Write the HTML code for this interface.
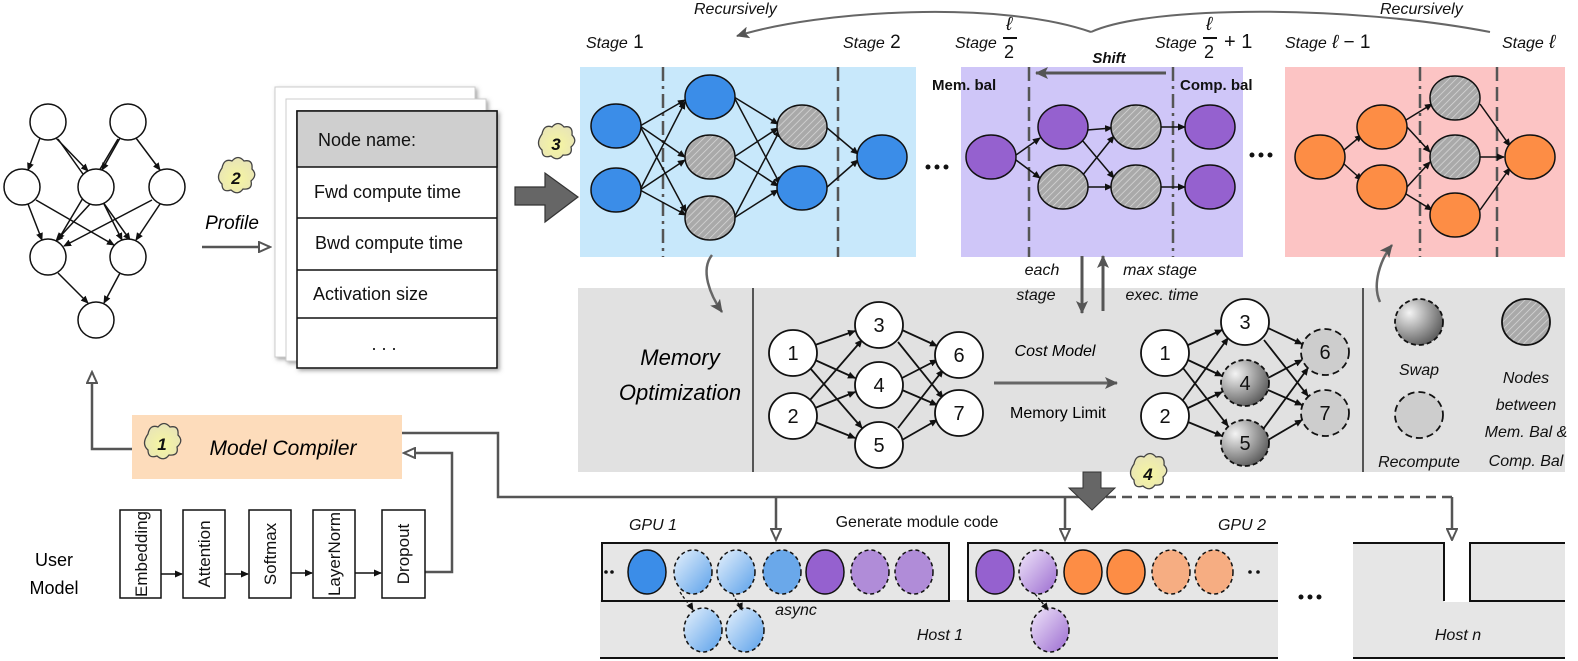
<!DOCTYPE html>
<html><head><meta charset="utf-8"><style>
html,body{margin:0;padding:0;background:#fff;}
svg{display:block;font-family:"Liberation Sans",sans-serif;}
.it{font-style:italic;}
</style></head><body>
<svg width="1578" height="661" viewBox="0 0 1578 661" xmlns="http://www.w3.org/2000/svg">
<defs>
<pattern id="hatch" width="5" height="5" patternUnits="userSpaceOnUse" patternTransform="rotate(45)">
<rect width="5" height="5" fill="#a9a9a9"/><line x1="0" y1="0" x2="0" y2="5" stroke="#d8d8d8" stroke-width="1.5"/></pattern>
<radialGradient id="swapg" cx="0.3" cy="0.3" r="0.8"><stop offset="0" stop-color="#f4f4f4"/><stop offset="1" stop-color="#555"/></radialGradient>
<linearGradient id="bg1" x1="0" y1="0" x2="1" y2="1"><stop offset="0" stop-color="#e6f1fc"/><stop offset="1" stop-color="#5aa0ea"/></linearGradient>
<linearGradient id="pg1" x1="0" y1="0" x2="1" y2="1"><stop offset="0" stop-color="#f0e6fa"/><stop offset="1" stop-color="#9b6bd0"/></linearGradient>
<radialGradient id="cloud" cx="0.5" cy="0.6" r="0.6"><stop offset="0" stop-color="#f6f6a0"/><stop offset="1" stop-color="#e8e4b8"/></radialGradient>
<marker id="a" markerWidth="8" markerHeight="8" refX="7" refY="4" orient="auto" markerUnits="userSpaceOnUse"><path d="M0,0.5 L8,4 L0,7.5 z" fill="#111"/></marker>
<marker id="h" markerWidth="14" markerHeight="12" refX="12" refY="6" orient="auto" markerUnits="userSpaceOnUse"><path d="M1,1 L12,6 L1,11 z" fill="#fff" stroke="#555" stroke-width="2"/></marker>
<marker id="g" markerWidth="14" markerHeight="12" refX="12" refY="6" orient="auto" markerUnits="userSpaceOnUse"><path d="M0,0 L13,6 L0,12 L3,6 z" fill="#555"/></marker>
<filter id="sh"><feDropShadow dx="2" dy="2" stdDeviation="2" flood-color="#666" flood-opacity="0.6"/></filter>
</defs>

<!-- left graph -->
<g stroke="#111" stroke-width="1.5" marker-end="url(#a)">
<line x1="40" y1="138" x2="28" y2="170"/><line x1="56" y1="138" x2="88" y2="171"/>
<line x1="120" y1="138" x2="102" y2="170"/><line x1="136" y1="138" x2="160" y2="170"/>
<line x1="58" y1="139" x2="130" y2="240" /><line x1="118" y1="139" x2="58" y2="240"/>
<line x1="28" y1="204" x2="42" y2="240"/><line x1="90" y1="204" x2="56" y2="241"/>
<line x1="104" y1="204" x2="122" y2="240"/><line x1="160" y1="204" x2="136" y2="240"/>
<line x1="36" y1="200" x2="114" y2="245"/><line x1="152" y1="200" x2="64" y2="246"/>
<line x1="58" y1="273" x2="88" y2="303"/><line x1="120" y1="273" x2="104" y2="303"/>
</g>
<g fill="#fff" stroke="#111" stroke-width="1.5">
<circle cx="48" cy="122" r="18"/><circle cx="128" cy="122" r="18"/>
<circle cx="22" cy="187" r="18"/><circle cx="96" cy="187" r="18"/><circle cx="167" cy="187" r="18"/>
<circle cx="48" cy="257" r="18"/><circle cx="128" cy="257" r="18"/><circle cx="96" cy="320" r="18"/>
</g>

<!-- profile -->
<line x1="202" y1="247" x2="270" y2="247" stroke="#555" stroke-width="2.5" marker-end="url(#h)"/>
<text x="232" y="229" class="it" font-size="19" text-anchor="middle">Profile</text>
<g filter="url(#sh)">
<rect x="275" y="87" width="200" height="270" fill="#fff" stroke="#ccc"/>
<rect x="286" y="99" width="200" height="262" fill="#fff" stroke="#ccc"/>
<rect x="297" y="111" width="200" height="257" fill="#fff" stroke="#111" stroke-width="1.5"/>
</g>
<rect x="297" y="111" width="200" height="56" fill="#cfcfcf" stroke="#111" stroke-width="1.5"/>
<g stroke="#111" stroke-width="1.5"><line x1="297" y1="218" x2="497" y2="218"/><line x1="297" y1="270" x2="497" y2="270"/><line x1="297" y1="318" x2="497" y2="318"/></g>
<g font-size="18" fill="#111">
<text x="318" y="146">Node name:</text>
<text x="314" y="198">Fwd compute time</text>
<text x="315" y="249">Bwd compute time</text>
<text x="313" y="300">Activation size</text>
<text x="384" y="350" text-anchor="middle">. . .</text>
</g>

<!-- big arrow 3 -->
<path d="M515,187 L545,187 L545,173 L578,197 L545,222 L545,205 L515,205 Z" fill="#666" stroke="#333" stroke-width="1.2"/>

<!-- Stage boxes -->
<rect x="580" y="67" width="336" height="190" fill="#c8e8fb"/>
<rect x="961" y="67" width="282" height="190" fill="#cfc6f8"/>
<rect x="1285" y="67" width="280" height="190" fill="#fcc4c4"/>
<g stroke="#555" stroke-width="2.5" stroke-dasharray="14,5,3,5">
<line x1="663" y1="67" x2="663" y2="257"/><line x1="838" y1="67" x2="838" y2="257" stroke-dasharray="14,6"/>
<line x1="1029" y1="67" x2="1029" y2="257" stroke-dasharray="14,6"/><line x1="1173" y1="67" x2="1173" y2="257"/>
<line x1="1420" y1="67" x2="1420" y2="257"/><line x1="1497" y1="67" x2="1497" y2="257" stroke-dasharray="14,6"/>
</g>
<!-- stage1 edges -->
<g stroke="#111" stroke-width="1.5" marker-end="url(#a)">
<line x1="640" y1="126" x2="685" y2="100"/><line x1="640" y1="126" x2="685" y2="157"/><line x1="640" y1="126" x2="686" y2="212"/>
<line x1="640" y1="190" x2="685" y2="102"/><line x1="640" y1="190" x2="685" y2="160"/><line x1="640" y1="190" x2="686" y2="215"/>
<line x1="734" y1="97" x2="778" y2="124"/><line x1="734" y1="97" x2="780" y2="184"/>
<line x1="734" y1="157" x2="778" y2="128"/><line x1="734" y1="157" x2="778" y2="186"/>
<line x1="734" y1="218" x2="780" y2="130"/><line x1="734" y1="218" x2="778" y2="190"/>
<line x1="826" y1="127" x2="858" y2="154"/><line x1="826" y1="188" x2="858" y2="160"/>
</g>
<g stroke="#111" stroke-width="1.5">
<ellipse cx="616" cy="126" rx="25" ry="22" fill="#3b8de8"/><ellipse cx="616" cy="190" rx="25" ry="22" fill="#3b8de8"/>
<ellipse cx="710" cy="97" rx="25" ry="22" fill="#3b8de8"/><ellipse cx="710" cy="157" rx="25" ry="22" fill="url(#hatch)"/><ellipse cx="710" cy="218" rx="25" ry="22" fill="url(#hatch)"/>
<ellipse cx="802" cy="127" rx="25" ry="22" fill="url(#hatch)"/><ellipse cx="802" cy="188" rx="25" ry="22" fill="#3b8de8"/>
<ellipse cx="882" cy="157" rx="25" ry="22" fill="#3b8de8"/>
</g>
<!-- purple stage -->
<g stroke="#111" stroke-width="1.5" marker-end="url(#a)">
<line x1="1016" y1="155" x2="1040" y2="138"/><line x1="1016" y1="160" x2="1040" y2="178"/>
<line x1="1087" y1="130" x2="1112" y2="128"/><line x1="1082" y1="140" x2="1114" y2="178"/>
<line x1="1082" y1="176" x2="1114" y2="136"/><line x1="1087" y1="187" x2="1112" y2="187"/>
<line x1="1161" y1="127" x2="1185" y2="127"/><line x1="1161" y1="187" x2="1185" y2="187"/>
</g>
<g stroke="#111" stroke-width="1.5">
<ellipse cx="991" cy="157" rx="25" ry="22" fill="#9561cf"/>
<ellipse cx="1063" cy="127" rx="25" ry="22" fill="#9561cf"/><ellipse cx="1063" cy="187" rx="25" ry="22" fill="url(#hatch)"/>
<ellipse cx="1136" cy="127" rx="25" ry="22" fill="url(#hatch)"/><ellipse cx="1136" cy="187" rx="25" ry="22" fill="url(#hatch)"/>
<ellipse cx="1210" cy="127" rx="25" ry="22" fill="#9561cf"/><ellipse cx="1210" cy="187" rx="25" ry="22" fill="#9561cf"/>
</g>
<!-- pink stage -->
<g stroke="#111" stroke-width="1.5" marker-end="url(#a)">
<line x1="1344" y1="150" x2="1362" y2="135"/><line x1="1344" y1="164" x2="1362" y2="180"/>
<line x1="1406" y1="120" x2="1432" y2="104"/><line x1="1407" y1="127" x2="1430" y2="152"/>
<line x1="1407" y1="187" x2="1430" y2="162"/><line x1="1406" y1="194" x2="1432" y2="210"/>
<line x1="1480" y1="104" x2="1510" y2="146"/><line x1="1480" y1="157" x2="1504" y2="157"/><line x1="1480" y1="210" x2="1510" y2="168"/>
</g>
<g stroke="#111" stroke-width="1.5">
<ellipse cx="1320" cy="157" rx="25" ry="22" fill="#fd8d45"/>
<ellipse cx="1382" cy="127" rx="25" ry="22" fill="#fd8d45"/><ellipse cx="1382" cy="187" rx="25" ry="22" fill="#fd8d45"/>
<ellipse cx="1455" cy="98" rx="25" ry="22" fill="url(#hatch)"/><ellipse cx="1455" cy="157" rx="25" ry="22" fill="url(#hatch)"/><ellipse cx="1455" cy="215" rx="25" ry="22" fill="#fd8d45"/>
<ellipse cx="1530" cy="157" rx="25" ry="22" fill="#fd8d45"/>
</g>
<g fill="#111"><circle cx="928" cy="167" r="2.5"/><circle cx="937" cy="167" r="2.5"/><circle cx="946" cy="167" r="2.5"/>
<circle cx="1252" cy="155" r="2.5"/><circle cx="1261" cy="155" r="2.5"/><circle cx="1270" cy="155" r="2.5"/></g>

<!-- stage labels -->
<g font-size="16" fill="#111">
<text x="586" y="48"><tspan class="it">Stage</tspan><tspan font-size="19"> 1</tspan></text>
<text x="843" y="48"><tspan class="it">Stage</tspan><tspan font-size="19"> 2</tspan></text>
<text x="955" y="48" class="it">Stage</text>
<text x="1006" y="30" font-size="19" class="it">ℓ</text><line x1="1003" y1="38" x2="1017" y2="38" stroke="#111" stroke-width="2"/><text x="1004" y="58" font-size="18">2</text>
<text x="1155" y="48" class="it">Stage</text>
<text x="1206" y="30" font-size="19" class="it">ℓ</text><line x1="1203" y1="38" x2="1217" y2="38" stroke="#111" stroke-width="2"/><text x="1204" y="58" font-size="18">2</text>
<text x="1224" y="48" font-size="20">+ 1</text>
<text x="1285" y="48"><tspan class="it">Stage</tspan><tspan font-size="19" class="it"> ℓ</tspan><tspan font-size="19"> − 1</tspan></text>
<text x="1502" y="48"><tspan class="it">Stage</tspan><tspan font-size="19" class="it"> ℓ</tspan></text>
<text x="694" y="14" class="it">Recursively</text>
<text x="1380" y="14" class="it">Recursively</text>
<text x="1109" y="63" font-weight="bold" class="it" font-size="15" text-anchor="middle">Shift</text>
<text x="932" y="90" font-weight="bold" font-size="15">Mem. bal</text>
<text x="1180" y="90" font-weight="bold" font-size="15">Comp. bal</text>
</g>
<line x1="1166" y1="73" x2="1036" y2="73" stroke="#555" stroke-width="3" marker-end="url(#g)"/>
<path d="M1091,32 C1000,0 820,10 737,36" fill="none" stroke="#666" stroke-width="2" marker-end="url(#g)"/>
<path d="M1091,32 C1150,5 1350,5 1490,32" fill="none" stroke="#666" stroke-width="2"/>

<!-- memory optimization -->
<rect x="578" y="288" width="987" height="184" fill="#e1e1e1"/>
<line x1="753" y1="288" x2="753" y2="472" stroke="#555" stroke-width="2"/>
<line x1="1363" y1="288" x2="1363" y2="472" stroke="#555" stroke-width="2"/>
<text x="680" y="365" class="it" font-size="22" text-anchor="middle">Memory</text>
<text x="680" y="400" class="it" font-size="22" text-anchor="middle">Optimization</text>
<path d="M712,255 C700,270 710,295 722,312" fill="none" stroke="#666" stroke-width="2.5" marker-end="url(#g)"/>
<path d="M1380,302 C1372,285 1380,260 1392,245" fill="none" stroke="#666" stroke-width="2.5" marker-end="url(#g)"/>
<line x1="1082" y1="256" x2="1082" y2="313" stroke="#555" stroke-width="3" marker-end="url(#g)"/>
<line x1="1103" y1="311" x2="1103" y2="256" stroke="#555" stroke-width="3" marker-end="url(#g)"/>
<g font-size="16" class="it" fill="#111">
<text x="1042" y="275" text-anchor="middle">each</text><text x="1036" y="300" text-anchor="middle">stage</text>
<text x="1160" y="275" text-anchor="middle">max stage</text><text x="1162" y="300" text-anchor="middle">exec. time</text>
</g>
<!-- graph1 -->
<g stroke="#111" stroke-width="1.8" marker-end="url(#a)">
<line x1="815" y1="345" x2="855" y2="331"/><line x1="815" y1="360" x2="855" y2="378"/><line x1="810" y1="368" x2="862" y2="428"/>
<line x1="815" y1="408" x2="855" y2="392"/><line x1="815" y1="422" x2="855" y2="438"/><line x1="810" y1="400" x2="862" y2="340"/>
<line x1="902" y1="330" x2="937" y2="346"/><line x1="898" y1="342" x2="943" y2="398"/>
<line x1="902" y1="378" x2="937" y2="360"/><line x1="902" y1="390" x2="937" y2="405"/>
<line x1="898" y1="428" x2="943" y2="370"/><line x1="902" y1="440" x2="937" y2="420"/>
</g>
<g fill="#fff" stroke="#111" stroke-width="1.8">
<ellipse cx="793" cy="353" rx="24" ry="23"/><ellipse cx="793" cy="416" rx="24" ry="23"/>
<ellipse cx="879" cy="325" rx="24" ry="23"/><ellipse cx="879" cy="385" rx="24" ry="23"/><ellipse cx="879" cy="445" rx="24" ry="23"/>
<ellipse cx="959" cy="355" rx="24" ry="23"/><ellipse cx="959" cy="413" rx="24" ry="23"/>
</g>
<g font-size="20" text-anchor="middle" fill="#111">
<text x="793" y="360">1</text><text x="793" y="423">2</text><text x="879" y="332">3</text><text x="879" y="392">4</text><text x="879" y="452">5</text><text x="959" y="362">6</text><text x="959" y="420">7</text>
</g>
<line x1="994" y1="383" x2="1117" y2="383" stroke="#666" stroke-width="3" marker-end="url(#g)"/>
<text x="1055" y="356" class="it" font-size="16" text-anchor="middle">Cost Model</text>
<text x="1058" y="418" font-size="16" text-anchor="middle">Memory Limit</text>
<!-- graph2 -->
<g stroke="#111" stroke-width="1.8" marker-end="url(#a)">
<line x1="1188" y1="345" x2="1222" y2="330"/><line x1="1188" y1="360" x2="1222" y2="376"/><line x1="1183" y1="368" x2="1228" y2="426"/>
<line x1="1188" y1="408" x2="1222" y2="392"/><line x1="1188" y1="422" x2="1222" y2="436"/><line x1="1183" y1="400" x2="1228" y2="338"/>
<line x1="1268" y1="328" x2="1302" y2="344"/><line x1="1264" y1="340" x2="1308" y2="396"/>
<line x1="1268" y1="378" x2="1302" y2="360"/><line x1="1268" y1="390" x2="1302" y2="405"/>
<line x1="1264" y1="428" x2="1308" y2="368"/><line x1="1268" y1="440" x2="1302" y2="420"/>
</g>
<g stroke="#111" stroke-width="1.8">
<ellipse cx="1165" cy="353" rx="24" ry="23" fill="#fff"/><ellipse cx="1165" cy="416" rx="24" ry="23" fill="#fff"/>
<ellipse cx="1245" cy="322" rx="24" ry="23" fill="#fff"/>
<ellipse cx="1245" cy="383" rx="24" ry="23" fill="url(#swapg)" stroke-dasharray="5,3"/>
<ellipse cx="1245" cy="443" rx="24" ry="23" fill="url(#swapg)" stroke-dasharray="5,3"/>
<ellipse cx="1325" cy="352" rx="24" ry="23" fill="#cdcdcd" stroke-dasharray="7,4"/>
<ellipse cx="1325" cy="413" rx="24" ry="23" fill="#cdcdcd" stroke-dasharray="7,4"/>
</g>
<g font-size="20" text-anchor="middle" fill="#111">
<text x="1165" y="360">1</text><text x="1165" y="423">2</text><text x="1245" y="329">3</text><text x="1245" y="390">4</text><text x="1245" y="450">5</text><text x="1325" y="359">6</text><text x="1325" y="420">7</text>
</g>
<!-- legend -->
<ellipse cx="1419" cy="322" rx="24" ry="23" fill="url(#swapg)" stroke="#111" stroke-width="1.8" stroke-dasharray="5,3"/>
<ellipse cx="1419" cy="415" rx="24" ry="23" fill="#cdcdcd" stroke="#111" stroke-width="1.8" stroke-dasharray="7,4"/>
<ellipse cx="1526" cy="322" rx="24" ry="23" fill="url(#hatch)" stroke="#111" stroke-width="1.8"/>
<g font-size="16" class="it" text-anchor="middle" fill="#111">
<text x="1419" y="375">Swap</text><text x="1419" y="467">Recompute</text>
<text x="1526" y="383">Nodes</text><text x="1526" y="410">between</text><text x="1526" y="437">Mem. Bal &amp;</text><text x="1526" y="466">Comp. Bal</text>
</g>

<!-- model compiler -->
<rect x="132" y="415" width="270" height="64" fill="#fddcbb"/>
<text x="283" y="455" class="it" font-size="21" text-anchor="middle">Model Compiler</text>
<polyline points="132,449 92,449 92,372" fill="none" stroke="#555" stroke-width="2.5" marker-end="url(#h)"/>
<polyline points="425,572 452,572 452,453 404,453" fill="none" stroke="#555" stroke-width="2.5" marker-end="url(#h)"/>
<polyline points="402,433 498,433 498,497 1090,497" fill="none" stroke="#555" stroke-width="2.5"/>
<line x1="1090" y1="497" x2="1452" y2="497" stroke="#555" stroke-width="2.5" stroke-dasharray="10,6"/>
<line x1="776" y1="497" x2="776" y2="540" stroke="#555" stroke-width="2.5" marker-end="url(#h)"/>
<line x1="1065" y1="497" x2="1065" y2="540" stroke="#555" stroke-width="2.5" marker-end="url(#h)"/>
<line x1="1452" y1="497" x2="1452" y2="540" stroke="#555" stroke-width="2.5" marker-end="url(#h)"/>
<path d="M1083,472 L1101,472 L1101,488 L1115,488 L1092,510 L1069,488 L1083,488 Z" fill="#666" stroke="#333"/>

<!-- clouds -->
<g stroke="#444" stroke-width="1.3" fill="url(#cloud)">
<path d="M222,168 q2,-10 10,-7 q6,-7 12,0 q9,-2 8,8 q6,6 -1,12 q2,9 -8,8 q-5,7 -12,1 q-9,3 -9,-6 q-7,-6 0,-16z"/>
<path d="M542,134 q2,-10 10,-7 q6,-7 12,0 q9,-2 8,8 q6,6 -1,12 q2,9 -8,8 q-5,7 -12,1 q-9,3 -9,-6 q-7,-6 0,-16z"/>
<path d="M148,434 q2,-10 10,-7 q6,-7 12,0 q9,-2 8,8 q6,6 -1,12 q2,9 -8,8 q-5,7 -12,1 q-9,3 -9,-6 q-7,-6 0,-16z"/>
<path d="M1134,464 q2,-10 10,-7 q6,-7 12,0 q9,-2 8,8 q6,6 -1,12 q2,9 -8,8 q-5,7 -12,1 q-9,3 -9,-6 q-7,-6 0,-16z"/>
</g>
<g font-size="17" font-weight="bold" class="it" text-anchor="middle" fill="#111">
<text x="236" y="184">2</text><text x="556" y="150">3</text><text x="162" y="450">1</text><text x="1148" y="480">4</text>
</g>

<!-- user model -->
<text x="54" y="566" font-size="18" text-anchor="middle">User</text>
<text x="54" y="594" font-size="18" text-anchor="middle">Model</text>
<g fill="#fff" stroke="#111" stroke-width="1.5">
<rect x="120" y="510" width="41" height="88"/><rect x="183" y="510" width="42" height="88"/><rect x="249" y="510" width="42" height="88"/><rect x="313" y="510" width="42" height="88"/><rect x="382" y="510" width="43" height="88"/>
</g>
<g stroke="#111" stroke-width="1.5" marker-end="url(#a)">
<line x1="161" y1="574" x2="182" y2="574"/><line x1="225" y1="574" x2="248" y2="574"/><line x1="291" y1="573" x2="312" y2="573"/><line x1="355" y1="573" x2="381" y2="573"/>
</g>
<g font-size="17" text-anchor="middle" fill="#111">
<text transform="translate(147,554) rotate(-90)">Embedding</text>
<text transform="translate(210,554) rotate(-90)">Attention</text>
<text transform="translate(276,554) rotate(-90)">Softmax</text>
<text transform="translate(340,554) rotate(-90)">LayerNorm</text>
<text transform="translate(409,554) rotate(-90)">Dropout</text>
</g>

<!-- GPUs / hosts -->
<rect x="600" y="600" width="678" height="58" fill="#e6e6e6"/>
<line x1="600" y1="658" x2="1278" y2="658" stroke="#111" stroke-width="2"/>
<rect x="602" y="543" width="347" height="58" fill="#e6e6e6" stroke="#111" stroke-width="2"/>
<rect x="968" y="543" width="310" height="58" fill="#e6e6e6"/>
<polyline points="1278,543 968,543 968,601 1278,601" fill="none" stroke="#111" stroke-width="2"/>
<rect x="1353" y="543" width="212" height="115" fill="#e6e6e6"/>
<rect x="1444" y="541" width="26" height="61" fill="#fff"/>
<line x1="1353" y1="658" x2="1565" y2="658" stroke="#111" stroke-width="2"/>
<polyline points="1353,543 1444,543 1444,601" fill="none" stroke="#111" stroke-width="2"/>
<polyline points="1565,543 1470,543 1470,601 1565,601" fill="none" stroke="#111" stroke-width="2"/>
<g stroke="#111" stroke-width="1.5">
<ellipse cx="647" cy="572" rx="19" ry="22" fill="#3b8de8"/>
<ellipse cx="693" cy="572" rx="19" ry="22" fill="url(#bg1)" stroke-dasharray="4,3"/>
<ellipse cx="736" cy="572" rx="19" ry="22" fill="url(#bg1)" stroke-dasharray="4,3"/>
<ellipse cx="782" cy="572" rx="19" ry="22" fill="#6aa8ea" stroke-dasharray="4,3"/>
<ellipse cx="825" cy="572" rx="19" ry="22" fill="#9561cf"/>
<ellipse cx="870" cy="572" rx="19" ry="22" fill="#b08cd8" stroke-dasharray="4,3"/>
<ellipse cx="914" cy="572" rx="19" ry="22" fill="#b08cd8" stroke-dasharray="4,3"/>
<ellipse cx="995" cy="572" rx="19" ry="22" fill="#9561cf"/>
<ellipse cx="1038" cy="572" rx="19" ry="22" fill="url(#pg1)" stroke-dasharray="4,3"/>
<ellipse cx="1083" cy="572" rx="19" ry="22" fill="#fd8d45"/>
<ellipse cx="1126" cy="572" rx="19" ry="22" fill="#fd8d45"/>
<ellipse cx="1171" cy="572" rx="19" ry="22" fill="#f6ad82" stroke-dasharray="4,3"/>
<ellipse cx="1214" cy="572" rx="19" ry="22" fill="#f6ad82" stroke-dasharray="4,3"/>
<ellipse cx="703" cy="630" rx="19" ry="22" fill="url(#bg1)" stroke-dasharray="4,3"/>
<ellipse cx="745" cy="630" rx="19" ry="22" fill="url(#bg1)" stroke-dasharray="4,3"/>
<ellipse cx="1050" cy="630" rx="19" ry="22" fill="url(#pg1)" stroke-dasharray="4,3"/>
</g>
<g stroke="#111" stroke-width="1.3" stroke-dasharray="3,2" fill="none" marker-end="url(#a)">
<path d="M680,592 C685,600 690,605 693,610"/><path d="M733,594 C735,600 740,605 742,610"/><path d="M1035,594 C1040,600 1045,606 1048,610"/>
</g>
<g fill="#111"><circle cx="606" cy="572" r="1.8"/><circle cx="612" cy="572" r="1.8"/><circle cx="1250" cy="572" r="1.8"/><circle cx="1258" cy="572" r="1.8"/>
<circle cx="1301" cy="597" r="2.5"/><circle cx="1310" cy="597" r="2.5"/><circle cx="1319" cy="597" r="2.5"/></g>
<g font-size="16" fill="#111">
<text x="653" y="530" class="it" text-anchor="middle">GPU 1</text>
<text x="1242" y="530" class="it" text-anchor="middle">GPU 2</text>
<text x="917" y="527" text-anchor="middle">Generate module code</text>
<text x="796" y="615" class="it" text-anchor="middle">async</text>
<text x="940" y="640" class="it" text-anchor="middle">Host 1</text>
<text x="1458" y="640" class="it" text-anchor="middle">Host n</text>
</g>
</svg>
</body></html>
